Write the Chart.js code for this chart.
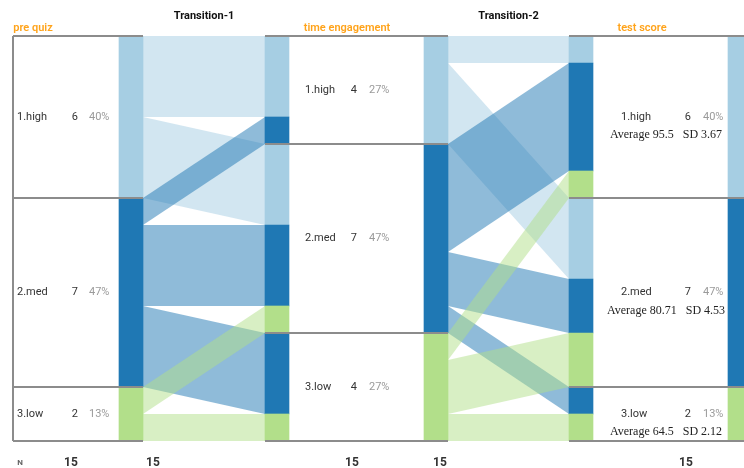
<!DOCTYPE html>
<html>
<head>
<meta charset="utf-8">
<script src="https://cdn.jsdelivr.net/npm/chart.js@4.4.1/dist/chart.umd.min.js"></script>
<style>
  html, body { margin: 0; padding: 0; background: #fff; }
  #contenedor { width: 744px; height: 468px; position: relative; }
</style>
</head>
<body>
<div id="contenedor"><canvas id="chartAluvial"></canvas></div>
<script>
// DATOS DE LA GRÁFICA
const niveles = ['1.high', '2.med', '3.low'];
const ejes = ['pre quiz', 'time engagement', 'test score'];
const transiciones = ['Transition-1', 'Transition-2'];
const conteoPreQuiz = [6, 7, 2];
const conteoTiempo = [4, 7, 4];
const conteoTest = [6, 7, 2];
// flujo[origen][destino]
const flujoPreTiempo = [[3, 3, 0], [1, 3, 3], [0, 1, 1]];
const flujoTiempoTest = [[1, 3, 0], [4, 2, 1], [1, 2, 1]];
const promedioTest = ['95.5', '80.71', '64.5'];
const desvTest = ['3.67', '4.53', '2.12'];
const totalN = 15;
const filaN = [15, 15, 15, 15, 15];

// ESTILO Y POSICIONES
const COLORES = ['#a6cee3', '#1f78b4', '#b2df8a'];
const COLORES_FLUJO = ['rgba(166, 206, 227, 0.5)', 'rgba(31, 120, 180, 0.5)', 'rgba(178, 223, 138, 0.5)'];
const ANCHO_BARRA = 24;
const COLOR_LINEA = '#8c8c8c';
const FUENTE = 'Roboto, "Noto Sans", sans-serif';
const cajas = [
    { izq: 13, der: 143, barraEntrada: null, barraSalida: 131, xEtiqueta: 17, xConteo: 78, xPct: 89, xTitulo: 33 },
    { izq: 265, der: 448, barraEntrada: 277, barraSalida: 436, xEtiqueta: 305, xConteo: 357, xPct: 369, xTitulo: 347 },
    { izq: 569, der: 752, barraEntrada: 581, barraSalida: 740, xEtiqueta: 621, xConteo: 691, xPct: 703, xTitulo: 642 }
];
const xFilaN = [71, 153, 352, 440, 686];

function acumulados(conteos) {
    let acc = 0;
    return conteos.map(c => { const ini = acc; acc += c; return ini; });
}

// barras coloreadas por su propia categoría
function segmentosPropios(conteos, x) {
    const inicios = acumulados(conteos);
    return conteos.map((c, i) => ({ x: x, y: [inicios[i], inicios[i] + c], color: COLORES[i] }));
}

// barras de llegada coloreadas por la categoría de origen
function segmentosEntrada(flujo, x) {
    const segs = [];
    let acc = 0;
    for (let j = 0; j < niveles.length; j++) {
        for (let i = 0; i < niveles.length; i++) {
            const v = flujo[i][j];
            if (!v) continue;
            segs.push({ x: x, y: [acc, acc + v], color: COLORES[i] });
            acc += v;
        }
    }
    return segs;
}

const segmentos = [
    ...segmentosPropios(conteoPreQuiz, cajas[0].barraSalida),
    ...segmentosEntrada(flujoPreTiempo, cajas[1].barraEntrada),
    ...segmentosPropios(conteoTiempo, cajas[1].barraSalida),
    ...segmentosEntrada(flujoTiempoTest, cajas[2].barraEntrada),
    ...segmentosPropios(conteoTest, cajas[2].barraSalida)
];

function dibujarFlujos(ctx, sx, sy, flujo, xIni, xFin) {
    const n = niveles.length;
    const salida = [], llegada = [];
    let acc = 0;
    for (let i = 0; i < n; i++) {
        salida[i] = [];
        for (let j = 0; j < n; j++) { salida[i][j] = acc; acc += flujo[i][j]; }
    }
    acc = 0;
    for (let i = 0; i < n; i++) llegada[i] = [];
    for (let j = 0; j < n; j++) {
        for (let i = 0; i < n; i++) { llegada[i][j] = acc; acc += flujo[i][j]; }
    }
    const x0 = sx.getPixelForValue(xIni), x1 = sx.getPixelForValue(xFin);
    for (let i = 0; i < n; i++) {
        for (let j = 0; j < n; j++) {
            const v = flujo[i][j];
            if (!v) continue;
            ctx.beginPath();
            ctx.moveTo(x0, sy.getPixelForValue(salida[i][j]));
            ctx.lineTo(x1, sy.getPixelForValue(llegada[i][j]));
            ctx.lineTo(x1, sy.getPixelForValue(llegada[i][j] + v));
            ctx.lineTo(x0, sy.getPixelForValue(salida[i][j] + v));
            ctx.closePath();
            ctx.fillStyle = COLORES_FLUJO[i];
            ctx.fill();
        }
    }
}

const pluginAluvial = {
    id: 'aluvial',
    beforeDatasetsDraw(chart) {
        const { ctx, scales: { x, y } } = chart;
        ctx.save();
        const m = ANCHO_BARRA / 2;
        dibujarFlujos(ctx, x, y, flujoPreTiempo, cajas[0].barraSalida + m, cajas[1].barraEntrada - m);
        dibujarFlujos(ctx, x, y, flujoTiempoTest, cajas[1].barraSalida + m, cajas[2].barraEntrada - m);
        ctx.restore();
    },
    afterDatasetsDraw(chart) {
        const { ctx, scales: { x, y } } = chart;
        const conteos = [conteoPreQuiz, conteoTiempo, conteoTest];
        ctx.save();

        // líneas de separación
        ctx.strokeStyle = COLOR_LINEA;
        ctx.lineWidth = 2;
        cajas.forEach((caja, k) => {
            const inicios = acumulados(conteos[k]);
            const cortes = [...inicios, totalN];
            cortes.forEach(v => {
                ctx.beginPath();
                ctx.moveTo(x.getPixelForValue(caja.izq), y.getPixelForValue(v));
                ctx.lineTo(x.getPixelForValue(caja.der), y.getPixelForValue(v));
                ctx.stroke();
            });
        });
        ctx.beginPath();
        ctx.moveTo(x.getPixelForValue(cajas[0].izq), y.getPixelForValue(0));
        ctx.lineTo(x.getPixelForValue(cajas[0].izq), y.getPixelForValue(totalN));
        ctx.stroke();

        // títulos
        ctx.textBaseline = 'middle';
        ctx.textAlign = 'center';
        ctx.font = '600 11px ' + FUENTE;
        ctx.fillStyle = '#ffa31a';
        ejes.forEach((nombre, k) => ctx.fillText(nombre, cajas[k].xTitulo, 28));
        ctx.font = 'bold 11px ' + FUENTE;
        ctx.fillStyle = '#111';
        transiciones.forEach((nombre, k) => {
            const xc = (cajas[k].der + cajas[k + 1].izq) / 2;
            ctx.fillText(nombre, xc, 16);
        });

        // etiquetas de categoría
        cajas.forEach((caja, k) => {
            const inicios = acumulados(conteos[k]);
            conteos[k].forEach((c, i) => {
                const yc = y.getPixelForValue(inicios[i] + c / 2);
                ctx.font = '11px ' + FUENTE;
                ctx.textAlign = 'left';
                ctx.fillStyle = '#333';
                ctx.fillText(niveles[i], caja.xEtiqueta, yc);
                ctx.textAlign = 'right';
                ctx.fillText(String(c), caja.xConteo, yc);
                ctx.textAlign = 'left';
                ctx.fillStyle = '#9a9a9a';
                ctx.fillText(Math.round(c / totalN * 100) + '%', caja.xPct, yc);
                if (k === 2) {
                    ctx.font = '12px "Liberation Serif", "DejaVu Serif", serif';
                    ctx.fillStyle = '#222';
                    ctx.textAlign = 'center';
                    ctx.fillText('Average ' + promedioTest[i] + '   SD ' + desvTest[i], 666, yc + 18);
                }
            });
        });

        // fila N
        ctx.font = 'bold 8px ' + FUENTE;
        ctx.fillStyle = '#666';
        ctx.textAlign = 'center';
        ctx.fillText('N', 20, 463);
        ctx.font = 'bold 12px ' + FUENTE;
        ctx.fillStyle = '#333';
        filaN.forEach((v, k) => ctx.fillText(String(v), xFilaN[k], 463));

        ctx.restore();
    }
};

document.addEventListener('DOMContentLoaded', function() {
    try {
        new Chart(document.getElementById('chartAluvial').getContext('2d'), {
            type: 'bar',
            data: {
                datasets: [{
                    data: segmentos.map(s => ({ x: s.x, y: s.y })),
                    backgroundColor: segmentos.map(s => s.color),
                    borderWidth: 0,
                    borderSkipped: false,
                    barThickness: ANCHO_BARRA,
                    grouped: false
                }]
            },
            options: {
                responsive: true,
                maintainAspectRatio: false,
                animation: false,
                layout: { padding: { top: 36, bottom: 27, left: 0, right: 0 } },
                plugins: { legend: { display: false }, tooltip: { enabled: false } },
                scales: {
                    x: { type: 'linear', min: 0, max: 744, offset: false, display: false },
                    y: { type: 'linear', min: 0, max: totalN, reverse: true, display: false }
                }
            },
            plugins: [pluginAluvial]
        });
    } catch (e) { console.error('Error en chartAluvial:', e); }
});
</script>
</body>
</html>
